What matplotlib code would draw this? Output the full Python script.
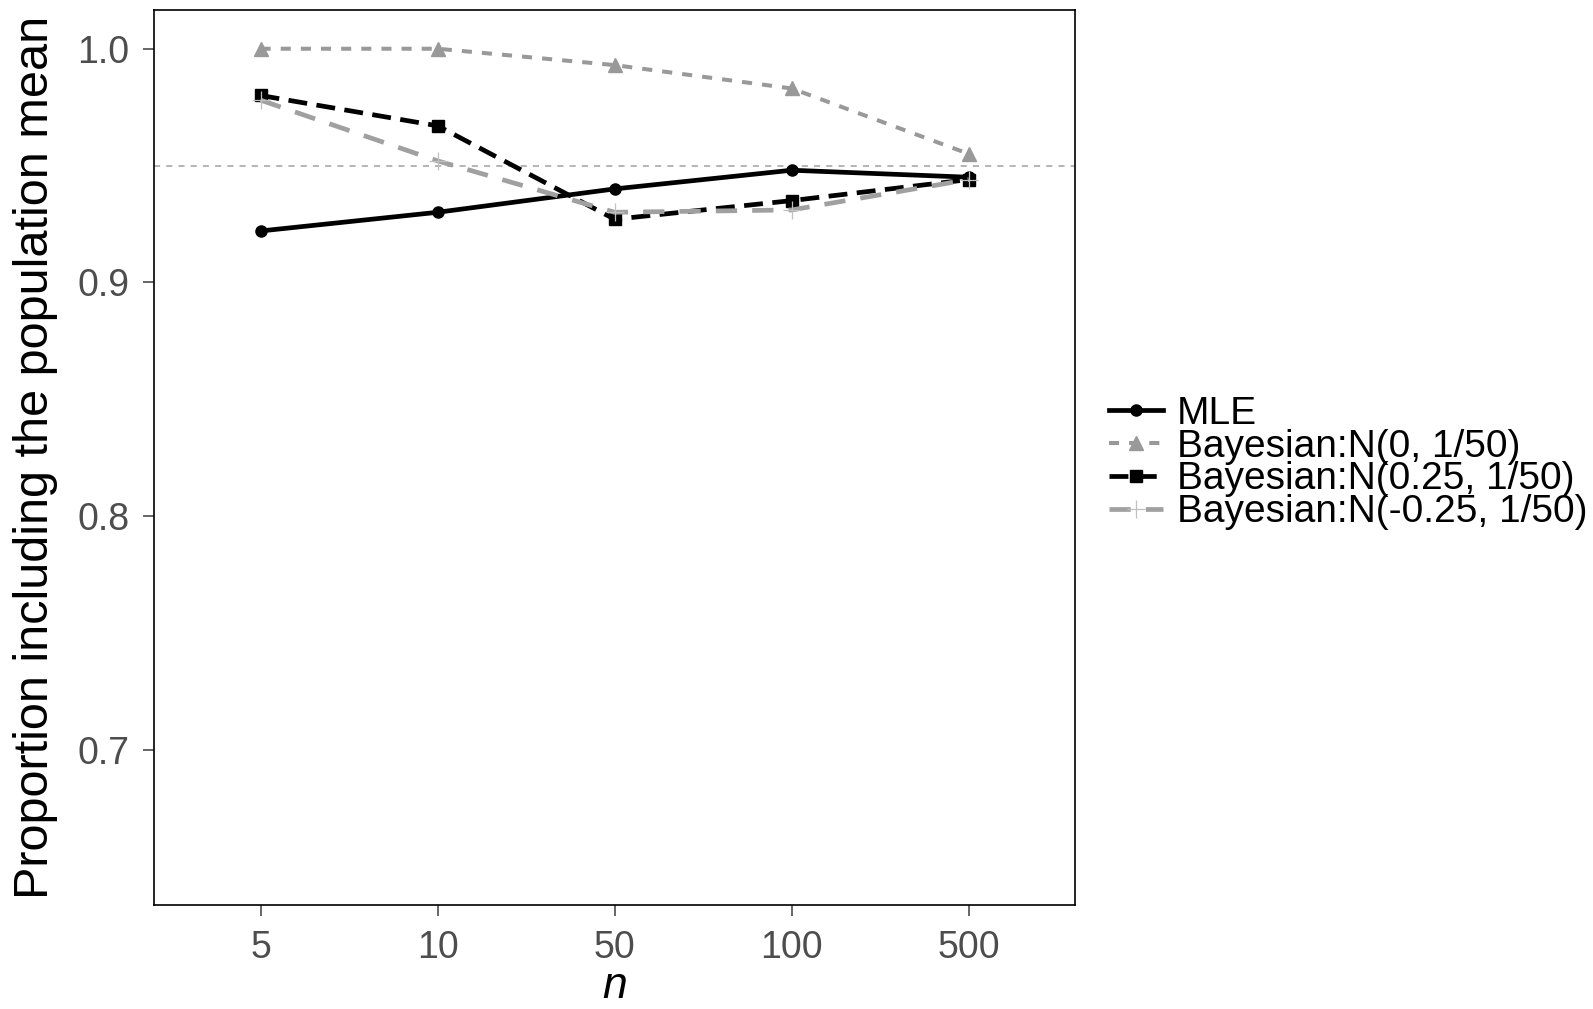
import numpy as np
import matplotlib

matplotlib.use("Agg")
import matplotlib.pyplot as plt

plt.rcParams["font.family"] = ["Liberation Sans", "DejaVu Sans"]

N_LABELS = ["5", "10", "50", "100", "500"]
MLE = [0.922, 0.930, 0.940, 0.948, 0.945]
BAYES_0 = [1.000, 1.000, 0.993, 0.983, 0.955]
BAYES_POS = [0.980, 0.967, 0.927, 0.935, 0.944]
BAYES_NEG = [0.978, 0.952, 0.930, 0.931, 0.944]
NOMINAL = 0.95

SERIES = [
    ("MLE", MLE, dict(color="black", linestyle="-", linewidth=3.4, marker="o", markersize=8)),
    ("Bayesian:N(0, 1/50)", BAYES_0, dict(color="#999999", linestyle=(0, (2.5, 2.5)), linewidth=2.9,
                                          marker="^", markersize=10)),
    ("Bayesian:N(0.25, 1/50)", BAYES_POS, dict(color="black", linestyle=(0, (4.0, 2.0)), linewidth=3.4,
                                               marker="s", markersize=8)),
    ("Bayesian:N(-0.25, 1/50)", BAYES_NEG, dict(color="#a0a0a0", linestyle=(0, (4.5, 3.2)), linewidth=3.4,
                                                marker="+", markersize=13, markeredgewidth=0.9,
                                                markeredgecolor="#c0c0c0")),
]

fig = plt.figure(figsize=(15.93, 10.09), dpi=100)
ax = fig.add_axes([0.0969, 0.1031, 0.5779, 0.8868])

x = np.arange(1, len(N_LABELS) + 1)
ax.axhline(NOMINAL, color="#a0a0a0", linestyle=(0, (4, 4)), linewidth=1.1, zorder=1)
for label, values, style in SERIES:
    ax.plot(x, values, label=label, zorder=3, **style)

ax.set_xlim(0.4, 5.6)
ax.set_ylim(0.6335, 1.0165)
ax.set_xticks(x)
ax.set_xticklabels(N_LABELS)
ax.set_yticks([0.7, 0.8, 0.9, 1.0])
ax.set_yticklabels(["0.7", "0.8", "0.9", "1.0"])
ax.tick_params(axis="both", labelsize=27, colors="#4d4d4d", length=8, width=1.2, direction="out", pad=10)
for spine in ax.spines.values():
    spine.set_color("black")
    spine.set_linewidth(1.2)

ax.set_xlabel("n", fontsize=32, fontstyle="italic", labelpad=0)
ax.set_ylabel("Proportion including the population mean", fontsize=35, labelpad=14)

ax.legend(loc="center left", bbox_to_anchor=(1.037, 0.494), frameon=False, fontsize=28,
          handlelength=1.4, handletextpad=0.35, labelspacing=-0.08, borderaxespad=0.0, borderpad=0.0)

fig.savefig("out.png", dpi=100)
